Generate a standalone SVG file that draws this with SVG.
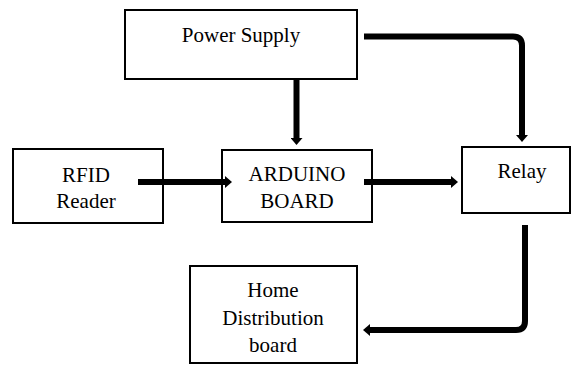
<svg xmlns="http://www.w3.org/2000/svg" width="573" height="365" viewBox="0 0 573 365">
  <style>
    .box { fill: #fff; stroke: #000; stroke-width: 2; }
    .lbl { font-size: 21px; fill: #000; text-anchor: middle; }
    .conn { fill: none; stroke: #000; stroke-width: 6; stroke-linejoin: round; }
  </style>
  <defs>
    <marker id="arrow" viewBox="0 0 7 12" refX="0" refY="6" markerWidth="7" markerHeight="12" markerUnits="userSpaceOnUse" orient="auto">
      <path d="M0,0 L7,6 L0,12 Z" fill="#000"/>
    </marker>
  </defs>
  <rect width="573" height="365" fill="#fff"/>
  <g font-family="Liberation Serif, DejaVu Serif, serif">
  <g id="power-supply">
    <rect class="box" x="125" y="10" width="232" height="69"/>
    <text class="lbl" x="241" y="42">Power Supply</text>
  </g>
  <g id="rfid-reader">
    <rect class="box" x="13" y="149" width="150" height="74"/>
    <text class="lbl" x="86" y="182">RFID</text>
    <text class="lbl" x="86" y="208">Reader</text>
  </g>
  <g id="arduino-board">
    <rect class="box" x="222" y="150" width="150" height="72"/>
    <text class="lbl" x="297" y="181">ARDUINO</text>
    <text class="lbl" x="297" y="208">BOARD</text>
  </g>
  <g id="relay">
    <rect class="box" x="462" y="147" width="108" height="66"/>
    <text class="lbl" x="522" y="178">Relay</text>
  </g>
  <g id="home-distribution-board">
    <rect class="box" x="190" y="266" width="167" height="97"/>
    <text class="lbl" x="273" y="297">Home</text>
    <text class="lbl" x="273" y="325">Distribution</text>
    <text class="lbl" x="273" y="352">board</text>
  </g>
  </g>
  <g id="connectors">
    <path class="conn" d="M296.5,79 V138" marker-end="url(#arrow)"/>
    <path class="conn" d="M138,182 H225" marker-end="url(#arrow)"/>
    <path class="conn" d="M364,182 H451" marker-end="url(#arrow)"/>
    <path class="conn" d="M364,36.5 H513 Q522,36.5 522,45.5 V135" marker-end="url(#arrow)"/>
    <path class="conn" d="M525,225 V321 Q525,330 516,330 H370" marker-end="url(#arrow)"/>
  </g>
</svg>
